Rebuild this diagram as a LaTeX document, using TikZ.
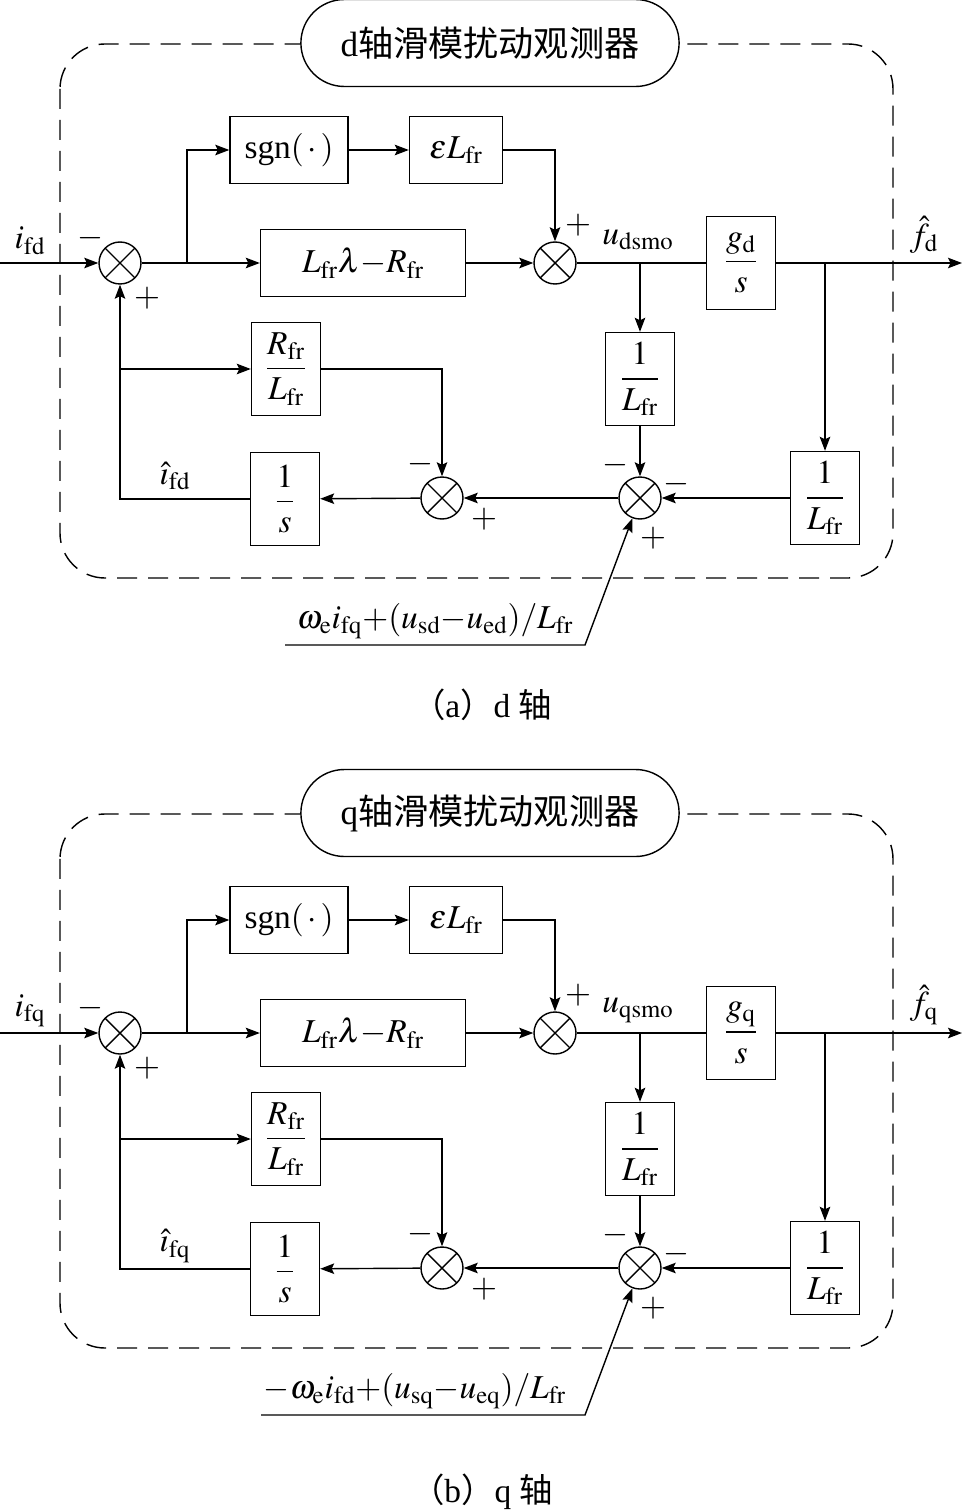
\documentclass[tikz,border=0pt]{standalone}
\usepackage{amsmath}
\usepackage{mathptmx}
\usepackage{fontspec}
\setmainfont{Liberation Serif}
\newfontfamily\cjk{Noto Sans CJK SC}
\usepackage{tikz}
\usetikzlibrary{arrows.meta, shapes.misc}

\begin{document}
\begin{tikzpicture}[
    x=0.02cm, y=-0.02cm, line width=0.8pt,
    >={Stealth[length=0.28cm, width=0.21cm, inset=0.05cm]},
    every node/.style={font=\fontsize{19}{22}\selectfont},
    block/.style={draw, inner sep=0pt, minimum height=1.34cm},
    fracblock/.style={draw, inner sep=0pt, minimum width=1.38cm, minimum height=1.86cm},
    sumnode/.style={draw, circle, minimum size=0.84cm, inner sep=0pt,
        path picture={\draw (path picture bounding box.north west) -- (path picture bounding box.south east)
            (path picture bounding box.north east) -- (path picture bounding box.south west);}},
    frame/.style={draw, dash pattern=on 0.4cm off 0.22cm, rounded corners=0.9cm},
    titlebox/.style={draw, rounded rectangle, fill=white, minimum width=7.8cm, minimum height=1.74cm, font=\fontsize{20}{24}\selectfont},
    sign/.style={inner sep=0pt},
    lab/.style={inner sep=1pt},
]
\useasboundingbox (0,0) rectangle (964,1510);
\foreach \oy/\ax/\bx/\sg/\xl/\xt/\cy/\cl in {0/d/q//285/435/705/a, 770/q/d/-/261/415/722/b}{
% frame and title
\draw[frame] (60,{\oy+44}) rectangle (893,{\oy+578});
\node[titlebox] (title) at (490,{\oy+43}) {\ax{\cjk 轴滑模扰动观测器}};
% blocks
\node[sumnode] (sum1) at (120,{\oy+263}) {};
\node[block, minimum width=2.36cm] (sgnbox) at (289,{\oy+150}) {sgn$(\,\cdot\,)$};
\node[block, minimum width=1.86cm] (epsbox) at (456,{\oy+150}) {$\varepsilon L_{\mathrm{fr}}$};
\node[block, minimum width=4.1cm] (lambox) at (363,{\oy+263}) {$L_{\mathrm{fr}}\lambda{-}R_{\mathrm{fr}}$};
\node[sumnode] (sum2) at (555,{\oy+263}) {};
\node[fracblock] (gbox) at (741,{\oy+263}) {$\dfrac{g_{\mathrm{\ax}}}{s}$};
\node[fracblock] (inv1) at (640,{\oy+379}) {$\dfrac{1}{L_{\mathrm{fr}}}$};
\node[sumnode] (sum3) at (640,{\oy+498}) {};
\node[fracblock] (inv2) at (825,{\oy+498}) {$\dfrac{1}{L_{\mathrm{fr}}}$};
\node[sumnode] (sum4) at (442,{\oy+498}) {};
\node[fracblock] (rlbox) at (286,{\oy+369}) {$\dfrac{R_{\mathrm{fr}}}{L_{\mathrm{fr}}}$};
\node[fracblock] (intbox) at (285,{\oy+499}) {$\dfrac{1}{s}$};
% branch points and free ends
\coordinate (input) at (0,{\oy+263});
\coordinate (output) at (962,{\oy+263});
\coordinate (br1) at (187,{\oy+263});
\coordinate (br2) at (640,{\oy+263});
\coordinate (br3) at (825,{\oy+263});
\coordinate (br4) at (120,{\oy+369});
\coordinate (ext) at (\xl,{\oy+645});
\coordinate (extbend) at (585,{\oy+645});
% connectors
\draw[->] (input) -- (sum1);
\draw[->] (sum1) -- (lambox);
\draw[->] (br1) |- (sgnbox);
\draw[->] (sgnbox) -- (epsbox);
\draw[->] (epsbox) -| (sum2);
\draw[->] (lambox) -- (sum2);
\draw (sum2) -- (gbox);
\draw[->] (gbox) -- (output);
\draw[->] (br2) -- (inv1);
\draw[->] (br3) -- (inv2);
\draw[->] (inv1) -- (sum3);
\draw[->] (inv2) -- (sum3);
\draw[->] (sum3) -- (sum4);
\draw[->] (sum4) -- (intbox);
\draw[->] (intbox) -| (sum1);
\draw[->] (br4) -- (rlbox);
\draw[->] (rlbox) -| (sum4);
\draw[->] (ext) -- (extbend) -- (sum3);
% labels
\node[lab] (ilab) at (30,{\oy+241}) {$i_{\mathrm{f\ax}}$};
\node[lab] (flab) at (924,{\oy+235}) {$\hat{f}_{\mathrm{\ax}}$};
\node[lab] (ulab) at (638,{\oy+240}) {$u_{\mathrm{\ax smo}}$};
\node[lab] (ihat) at (175,{\oy+476}) {$\hat{\imath}_{\mathrm{f\ax}}$};
\node[lab] (extlab) at (\xt,{\oy+621}) {$\sg\omega_{\mathrm{e}}i_{\mathrm{f\bx}}{+}(u_{\mathrm{s\ax}}{-}u_{\mathrm{e\ax}})/L_{\mathrm{fr}}$};
\node[sign] (m1) at (90,{\oy+238}) {$-$};
\node[sign] (p1) at (147,{\oy+298}) {$+$};
\node[sign] (p2) at (578,{\oy+225}) {$+$};
\node[sign] (m3a) at (615,{\oy+465}) {$-$};
\node[sign] (m3b) at (676,{\oy+484}) {$-$};
\node[sign] (p3) at (653,{\oy+538}) {$+$};
\node[sign] (m4) at (420,{\oy+464}) {$-$};
\node[sign] (p4) at (484,{\oy+519}) {$+$};
\node (caption) at (482,{\oy+\cy}) {{\cjk （}\cl{\cjk ）}\ax\ {\cjk 轴}};
}
\end{tikzpicture}
\end{document}
